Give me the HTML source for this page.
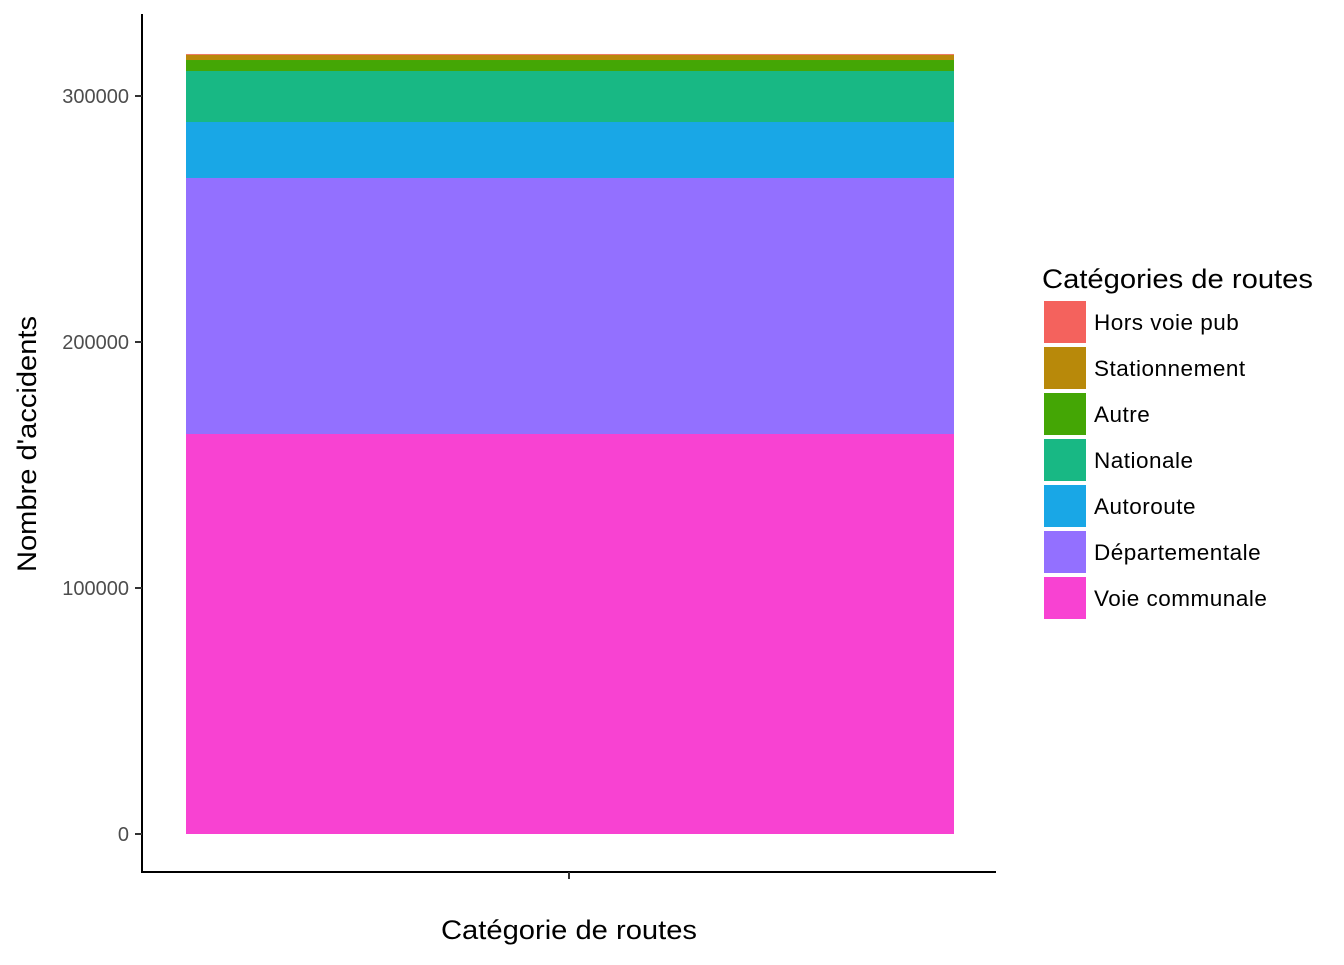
<!DOCTYPE html>
<html><head><meta charset="utf-8"><style>
body{margin:0;background:#fff;}
svg text{font-family:"Liberation Sans",Arial,sans-serif;}
</style></head><body>
<svg width="1344" height="960">
<g id="bars"></g>
<line x1="142" y1="14" x2="142" y2="872" stroke="#000" stroke-width="2"/>
<line x1="141" y1="872" x2="996" y2="872" stroke="#000" stroke-width="2"/>
<line x1="569" y1="872" x2="569" y2="879" stroke="#333" stroke-width="2"/>
<g id="yticks"></g>
<text x="441" y="939" font-size="27" textLength="256" lengthAdjust="spacingAndGlyphs">Catégorie de routes</text>
<text transform="translate(36,572) rotate(-90)" font-size="27" textLength="256" lengthAdjust="spacingAndGlyphs">Nombre d'accidents</text>
<text x="1042" y="288" font-size="27" textLength="271" lengthAdjust="spacingAndGlyphs">Catégories de routes</text>
<g id="legend"></g>
</svg>
<script>
const categories=["Voie communale","Départementale","Autoroute","Nationale","Autre","Stationnement","Hors voie pub"];
const values=[162600,104070,22760,20730,4470,2150,300];
const colors=["#F842D2","#9370FF","#19A7E6","#18B884","#44A605","#B8890A","#F4625D"];
const yTicks=[0,100000,200000,300000];
const y=v=>834-v*0.00246;
const ns="http://www.w3.org/2000/svg";
const bars=document.getElementById('bars');
let cum=0;
values.forEach((v,i)=>{const r=document.createElementNS(ns,'rect');
r.setAttribute('x',186);r.setAttribute('width',768);
r.setAttribute('y',y(cum+v));r.setAttribute('height',y(cum)-y(cum+v));
r.setAttribute('fill',colors[i]);


bars.appendChild(r);cum+=v;});
const yt=document.getElementById('yticks');
yTicks.forEach(t=>{const l=document.createElementNS(ns,'line');
l.setAttribute('x1',135);l.setAttribute('x2',142);l.setAttribute('y1',y(t));l.setAttribute('y2',y(t));
l.setAttribute('stroke','#333');l.setAttribute('stroke-width',2);


yt.appendChild(l);
const tx=document.createElementNS(ns,'text');
tx.setAttribute('x',129);tx.setAttribute('y',y(t)+7);tx.setAttribute('text-anchor','end');
tx.setAttribute('font-size',20);tx.setAttribute('fill','#4d4d4d');tx.textContent=t;


yt.appendChild(tx);});
const lg=document.getElementById('legend');
for(let k=0;k<categories.length;k++){const i=categories.length-1-k;const yy=301+k*46;
const r=document.createElementNS(ns,'rect');
r.setAttribute('x',1044);r.setAttribute('y',yy);r.setAttribute('width',42);r.setAttribute('height',42);r.setAttribute('fill',colors[i]);


lg.appendChild(r);
const tx=document.createElementNS(ns,'text');
tx.setAttribute('x',1094);tx.setAttribute('y',yy+29);tx.setAttribute('font-size',22.5);tx.setAttribute('letter-spacing','0.5');tx.textContent=categories[i];


lg.appendChild(tx);}
</script>
</body></html>
